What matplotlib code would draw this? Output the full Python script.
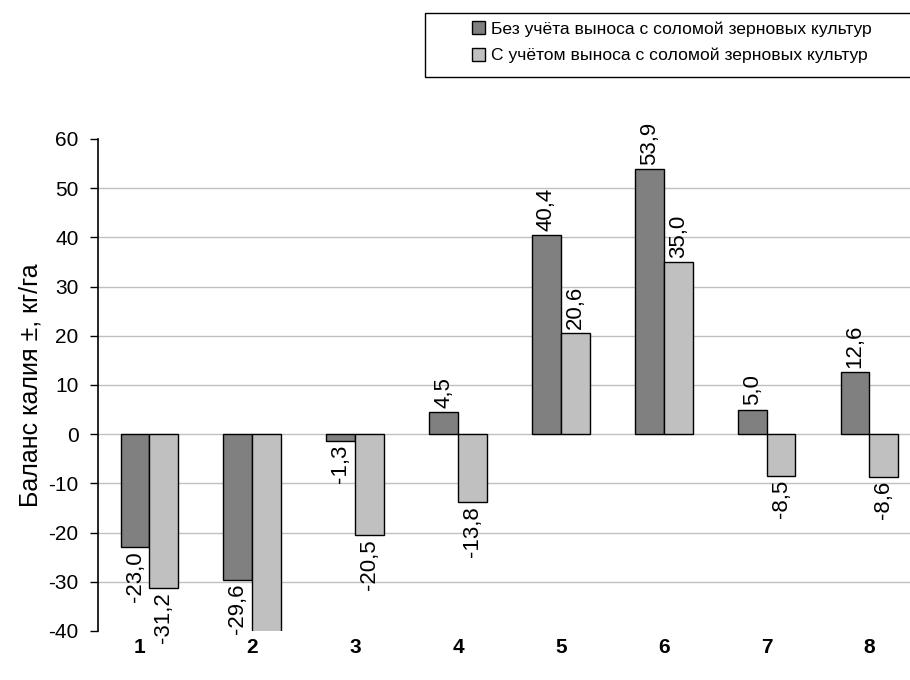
import numpy as np
import matplotlib.pyplot as plt
import matplotlib.transforms as mtransforms
from matplotlib.patches import Rectangle

plt.rcParams['font.family'] = ['Liberation Sans', 'DejaVu Sans']
plt.rcParams['axes.unicode_minus'] = False

categories = ['1', '2', '3', '4', '5', '6', '7', '8']
without_straw = [-23.0, -29.6, -1.3, 4.5, 40.4, 53.9, 5.0, 12.6]
with_straw = [-31.2, -40.6, -20.5, -13.8, 20.6, 35.0, -8.5, -8.6]
series_names = ['Без учёта выноса с соломой зерновых культур',
                'С учётом выноса с соломой зерновых культур']

ymin, ymax = -40, 60
yticks = np.arange(-40, 61, 10)

fig = plt.figure(figsize=(9.1, 6.8), dpi=100)
ax = fig.add_axes([98 / 910, 49 / 680, 1 - 98 / 910 + 0.012, 492 / 680])

x = np.arange(len(categories))
width = 0.28

# grid only between the outer ticks
for yv in yticks[1:-1]:
    ax.axhline(yv, color='#c0c0c0', linewidth=1, zorder=0)

b1 = ax.bar(x - width / 2, without_straw, width, color='#808080',
            edgecolor='black', linewidth=1, label=series_names[0], zorder=2)
b2 = ax.bar(x + width / 2, with_straw, width, color='#c0c0c0',
            edgecolor='black', linewidth=1, label=series_names[1], zorder=2)

def fmt(v):
    return f'{v:.1f}'.replace('.', ',')

for bars, vals in ((b1, without_straw), (b2, with_straw)):
    for rect, v in zip(bars, vals):
        if v < ymin or v > ymax:
            continue
        cx = rect.get_x() + rect.get_width() / 2
        off = 3 if v >= 0 else -3
        ax.annotate(fmt(v), xy=(cx, v), xytext=(0, off), textcoords='offset points',
                    rotation=90, ha='center', va='bottom' if v >= 0 else 'top',
                    fontsize=16, annotation_clip=False)

ax.set_ylim(ymin, ymax)
ax.set_xlim(-0.5, 7.5)
ax.set_yticks(yticks)
ax.set_xticks(x)
ax.set_xticklabels(categories, fontweight='bold', fontsize=15)
ax.tick_params(axis='y', labelsize=15, direction='out', length=6, width=1, pad=8)
ax.tick_params(axis='x', length=0, pad=5)
for side in ('top', 'right', 'bottom'):
    ax.spines[side].set_visible(False)
ax.spines['left'].set_linewidth(1.2)
ax.set_ylabel('Баланс калия ±, кг/га', fontsize=18, labelpad=4)

# first category label sits left to clear the value label
lbl = ax.get_xticklabels()[0]
lbl.set_transform(lbl.get_transform() +
                  mtransforms.ScaledTranslation(-10 / 100, 0, fig.dpi_scale_trans))

# legend box runs off the right edge
fig.patches.append(Rectangle((425 / 910, 1 - 77 / 680), 0.6, 64 / 680,
                             transform=fig.transFigure, facecolor='white',
                             edgecolor='black', linewidth=1))
leg = fig.legend(handles=[b1, b2], loc='upper left',
                 bbox_to_anchor=(472 / 910, 1 - 21 / 680), fontsize=12.6,
                 frameon=False, handlelength=0.75, handleheight=0.75,
                 handletextpad=0.35, labelspacing=0.65, borderpad=0,
                 borderaxespad=0)

fig.savefig('out.png', dpi=100)
